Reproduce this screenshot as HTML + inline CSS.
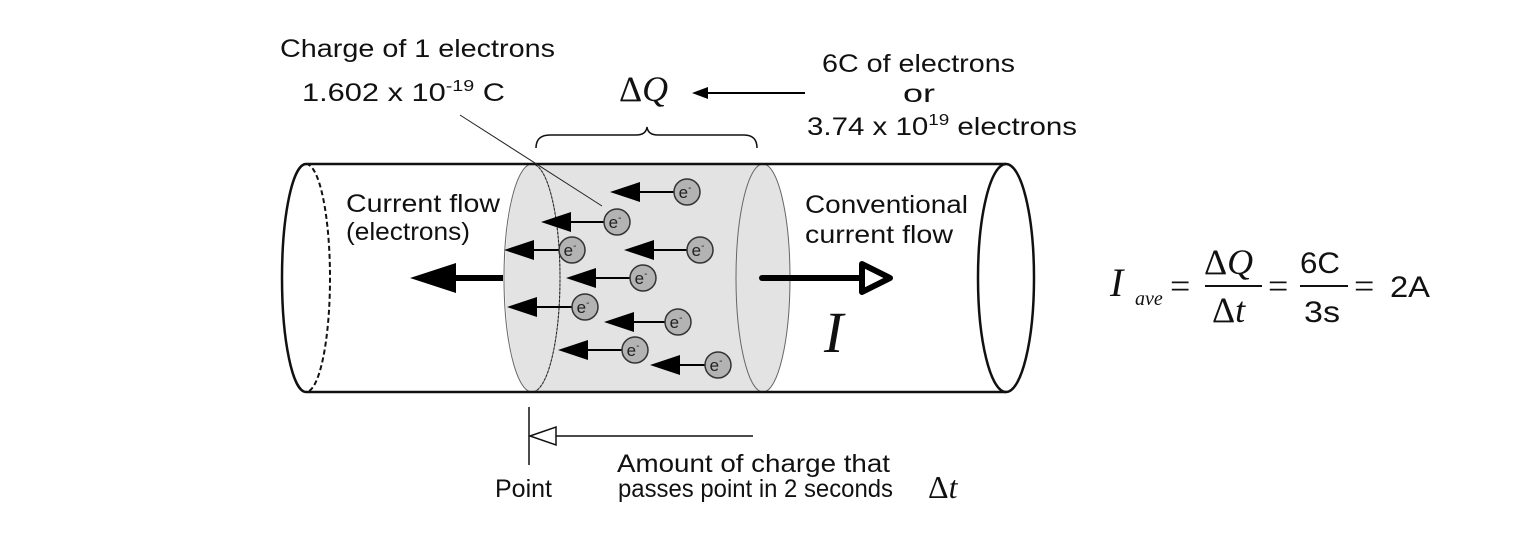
<!DOCTYPE html>
<html><head><meta charset="utf-8"><style>
html,body{margin:0;padding:0;background:#fff;}
svg{display:block;}
.t{font-family:"Liberation Sans",sans-serif;fill:#111;}
.s{font-family:"Liberation Serif",serif;fill:#111;}
</style></head><body>
<svg width="1524" height="547" viewBox="0 0 1524 547" xmlns="http://www.w3.org/2000/svg">
<!-- shaded section -->
<path d="M532,164 L763,164 A27,114 0 0 1 763,392 L532,392 A27,114 0 0 1 532,164z" fill="#e3e3e3"/>
<ellipse cx="532" cy="278" rx="28" ry="114" fill="none" stroke="#666" stroke-width="1"/>
<path d="M532,164 A28,114 0 0 1 532,392" fill="none" stroke="#222" stroke-width="1" stroke-dasharray="2,2"/>
<ellipse cx="763" cy="278" rx="27" ry="114" fill="#e3e3e3" stroke="#666" stroke-width="1"/>
<!-- tube -->
<line x1="306" y1="164" x2="1006" y2="164" stroke="#111" stroke-width="2.5"/>
<line x1="306" y1="392" x2="1006" y2="392" stroke="#111" stroke-width="2.5"/>
<path d="M306,164 A24,114 0 0 0 306,392" fill="none" stroke="#111" stroke-width="2.5"/>
<path d="M306,164 A24,114 0 0 1 306,392" fill="none" stroke="#111" stroke-width="2" stroke-dasharray="5,3"/>
<ellipse cx="1006" cy="278" rx="28" ry="114" fill="none" stroke="#111" stroke-width="2.5"/>
<!-- big left arrow -->
<line x1="450" y1="278" x2="503" y2="278" stroke="#000" stroke-width="6"/>
<path d="M410,278 L456,263 L456,293z" fill="#000"/>
<!-- right arrow -->
<line x1="762" y1="278" x2="862" y2="278" stroke="#000" stroke-width="6" stroke-linecap="round"/>
<path d="M862,264 L890,278 L862,292z" fill="#fff" stroke="#000" stroke-width="6" stroke-linejoin="round"/>
<!-- electrons -->
<g stroke="#000" stroke-width="2">
<line x1="635" y1="192" x2="674" y2="192"/>
<line x1="566" y1="222" x2="604" y2="222"/>
<line x1="529" y1="250" x2="559" y2="250"/>
<line x1="649" y1="250" x2="687" y2="250"/>
<line x1="591" y1="278" x2="630" y2="278"/>
<line x1="532" y1="307" x2="572" y2="307"/>
<line x1="629" y1="322" x2="665" y2="322"/>
<line x1="583" y1="350" x2="622" y2="350"/>
<line x1="675" y1="365" x2="705" y2="365"/>
</g>
<g fill="#000">
<path d="M610,192 l30,-10 v20z"/>
<path d="M541,222 l30,-10 v20z"/>
<path d="M504,250 l30,-10 v20z"/>
<path d="M624,250 l30,-10 v20z"/>
<path d="M566,278 l30,-10 v20z"/>
<path d="M507,307 l30,-10 v20z"/>
<path d="M604,322 l30,-10 v20z"/>
<path d="M558,350 l30,-10 v20z"/>
<path d="M650,365 l30,-10 v20z"/>
</g>
<g fill="#b3b3b3" stroke="#333" stroke-width="1.5">
<circle cx="687" cy="192" r="13"/><circle cx="617" cy="222" r="13"/><circle cx="572" cy="250" r="13"/>
<circle cx="700" cy="250" r="13"/><circle cx="643" cy="278" r="13"/><circle cx="585" cy="307" r="13"/>
<circle cx="678" cy="322" r="13"/><circle cx="635" cy="350" r="13"/><circle cx="718" cy="365" r="13"/>
</g>
<g font-family="Liberation Sans,sans-serif" style="font-size:17px" fill="#222" text-anchor="middle">
<text x="685" y="198">e<tspan style="font-size:10px" dy="-7">-</tspan></text>
<text x="615" y="228">e<tspan style="font-size:10px" dy="-7">-</tspan></text>
<text x="570" y="256">e<tspan style="font-size:10px" dy="-7">-</tspan></text>
<text x="698" y="256">e<tspan style="font-size:10px" dy="-7">-</tspan></text>
<text x="641" y="284">e<tspan style="font-size:10px" dy="-7">-</tspan></text>
<text x="583" y="313">e<tspan style="font-size:10px" dy="-7">-</tspan></text>
<text x="676" y="328">e<tspan style="font-size:10px" dy="-7">-</tspan></text>
<text x="633" y="356">e<tspan style="font-size:10px" dy="-7">-</tspan></text>
<text x="716" y="371">e<tspan style="font-size:10px" dy="-7">-</tspan></text>
</g>
<!-- leader -->
<line x1="460" y1="115" x2="602" y2="206" stroke="#222" stroke-width="1"/>
<!-- brace -->
<path d="M536,148 Q536,135 550,135 L636,135 Q646,135 647,127 Q648,135 658,135 L744,135 Q757,135 757,148" fill="none" stroke="#111" stroke-width="1.5"/>
<!-- top texts -->
<text class="t" style="font-size:25px" x="280" y="57" textLength="275" lengthAdjust="spacingAndGlyphs">Charge of 1 electrons</text>
<text class="t" style="font-size:25px" x="302" y="101" textLength="203" lengthAdjust="spacingAndGlyphs">1.602 x 10<tspan style="font-size:16px" dy="-10">-19</tspan><tspan dy="10"> C</tspan></text>
<text class="s" style="font-size:36px" x="619" y="101">Δ<tspan font-style="italic">Q</tspan></text>
<line x1="700" y1="93" x2="805" y2="93" stroke="#000" stroke-width="2"/>
<path d="M692,93 l16,-6 v12z" fill="#000"/>
<text class="t" style="font-size:25px" x="822" y="72" textLength="193" lengthAdjust="spacingAndGlyphs">6C of electrons</text>
<text class="t" style="font-size:25px" x="903" y="102" textLength="32" lengthAdjust="spacingAndGlyphs">or</text>
<text class="t" style="font-size:25px" x="807" y="135" textLength="270" lengthAdjust="spacingAndGlyphs">3.74 x 10<tspan style="font-size:16px" dy="-10">19</tspan><tspan dy="10"> electrons</tspan></text>
<text class="t" style="font-size:25px" x="346" y="212" textLength="154" lengthAdjust="spacingAndGlyphs">Current flow</text>
<text class="t" style="font-size:25px" x="346" y="240" textLength="124" lengthAdjust="spacingAndGlyphs">(electrons)</text>
<text class="t" style="font-size:25px" x="805" y="213" textLength="163" lengthAdjust="spacingAndGlyphs">Conventional</text>
<text class="t" style="font-size:25px" x="805" y="243" textLength="148" lengthAdjust="spacingAndGlyphs">current flow</text>
<text class="s" style="font-size:58px;font-style:italic" x="824" y="352">I</text>
<!-- bottom -->
<line x1="529" y1="407" x2="529" y2="465" stroke="#111" stroke-width="1.5"/>
<path d="M530,436 L556,427 L556,445z" fill="#fff" stroke="#111" stroke-width="1.5"/>
<line x1="556" y1="436" x2="753" y2="436" stroke="#111" stroke-width="1.5"/>
<text class="t" style="font-size:25px" x="495" y="497" textLength="57" lengthAdjust="spacingAndGlyphs">Point</text>
<text class="t" style="font-size:25px" x="617" y="472" textLength="273" lengthAdjust="spacingAndGlyphs">Amount of charge that</text>
<text class="t" style="font-size:25px" x="618" y="497" textLength="275" lengthAdjust="spacingAndGlyphs">passes point in 2 seconds</text>
<text class="s" style="font-size:32px" x="928" y="498">Δ<tspan font-style="italic">t</tspan></text>
<!-- formula -->
<text class="s" style="font-size:40px;font-style:italic" x="1110" y="296">I</text>
<text class="s" style="font-size:20px;font-style:italic" x="1135" y="305">ave</text>
<text class="s" style="font-size:36px" x="1170" y="298">=</text>
<text class="s" style="font-size:36px" x="1204" y="274">Δ<tspan font-style="italic">Q</tspan></text>
<line x1="1205" y1="286" x2="1262" y2="286" stroke="#111" stroke-width="2"/>
<text class="s" style="font-size:36px" x="1212" y="322">Δ<tspan font-style="italic">t</tspan></text>
<text class="s" style="font-size:36px" x="1268" y="298">=</text>
<text class="t" style="font-size:30px" x="1300" y="273" textLength="40" lengthAdjust="spacingAndGlyphs">6C</text>
<line x1="1300" y1="286" x2="1348" y2="286" stroke="#111" stroke-width="2"/>
<text class="t" style="font-size:30px" x="1304" y="322" textLength="36" lengthAdjust="spacingAndGlyphs">3s</text>
<text class="s" style="font-size:36px" x="1354" y="298">=</text>
<text class="t" style="font-size:30px" x="1390" y="297" textLength="40" lengthAdjust="spacingAndGlyphs">2A</text>
</svg>
</body></html>
